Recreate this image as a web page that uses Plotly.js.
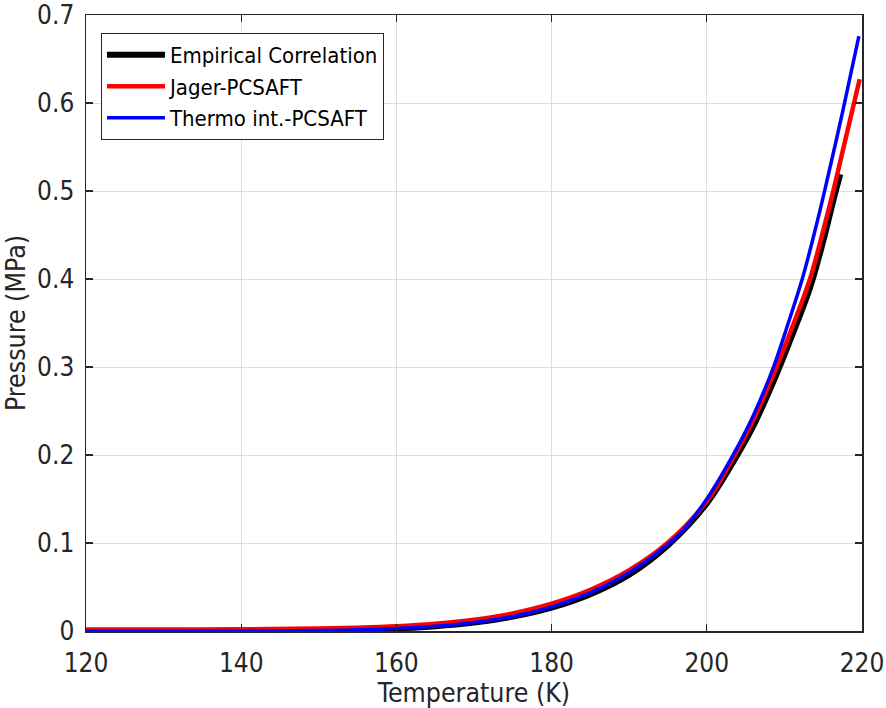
<!DOCTYPE html>
<html>
<head>
<meta charset="utf-8">
<script src="https://cdn.plot.ly/plotly-3.0.1.min.js"></script>
<style>html,body{margin:0;padding:0;background:#fff;}#chart{width:886px;height:708px;}</style>
</head>
<body>
<div id="chart"></div>
<script>
// Empirical correlation (black)
const empT = [120, 130, 140, 150, 155, 160, 165, 170, 175, 180, 185, 190, 195, 200, 203.6, 206, 209, 211, 213.3, 215, 216.3, 217.2];
const empP = [0.0000, 0.00003, 0.0002, 0.0008, 0.0016, 0.0030, 0.0055, 0.0097, 0.0163, 0.0265, 0.0418, 0.0640, 0.0975, 0.1450, 0.195, 0.233, 0.292, 0.336, 0.390, 0.443, 0.489, 0.519];

// Jager-PCSAFT (red)
const jagT = [120, 130, 140, 150, 155, 160, 165, 170, 175, 180, 185, 190, 195, 200, 203.6, 206, 209, 211, 213.3, 215, 216.3, 217.5, 218.6, 219.7];
const jagP = [0.0018, 0.0018, 0.0020, 0.0028, 0.0037, 0.0053, 0.0082, 0.0128, 0.0200, 0.0310, 0.0468, 0.0690, 0.1005, 0.1475, 0.200, 0.240, 0.300, 0.345, 0.400, 0.455, 0.500, 0.545, 0.586, 0.627];

// Thermo int.-PCSAFT (blue)
const thmT = [120, 130, 140, 150, 155, 160, 165, 170, 175, 180, 185, 190, 195, 197, 200, 203.2, 206, 208.6, 210.5, 212.3, 213.8, 215.1, 217.5, 219.6];
const thmP = [-0.0005, -0.0005, -0.0002, 0.0005, 0.0013, 0.0028, 0.0054, 0.0097, 0.0165, 0.0275, 0.0435, 0.0665, 0.0985, 0.115, 0.150, 0.197, 0.245, 0.300, 0.350, 0.400, 0.450, 0.497, 0.590, 0.676];

const seriesNames = ['Empirical Correlation', 'Jager-PCSAFT', 'Thermo int.-PCSAFT'];
const xTicks = [120, 140, 160, 180, 200, 220];
const yTicks = [0, 0.1, 0.2, 0.3, 0.4, 0.5, 0.6, 0.7];

const font = '"Liberation Sans Narrow", "DejaVu Sans Condensed", "Arial Narrow", sans-serif';
const traces = [
  {x: empT, y: empP, name: seriesNames[0], mode: 'lines', line: {color: '#000000', width: 6, shape: 'spline', smoothing: 1}},
  {x: jagT, y: jagP, name: seriesNames[1], mode: 'lines', line: {color: '#ff0000', width: 4.5, shape: 'spline', smoothing: 1}},
  {x: thmT, y: thmP, name: seriesNames[2], mode: 'lines', line: {color: '#0000ff', width: 3.5, shape: 'spline', smoothing: 1}}
];

const axisCommon = {
  showline: true, mirror: 'ticks', linecolor: '#262626', linewidth: 1.5,
  ticks: 'inside', ticklen: 7, tickwidth: 1.2, tickcolor: '#262626',
  showgrid: true, gridcolor: '#dcdcdc', gridwidth: 1,
  zeroline: false, tickfont: {family: font, size: 26, color: '#262626'}
};

const layout = {
  width: 886, height: 708,
  margin: {l: 86, r: 24, t: 15, b: 77},
  paper_bgcolor: '#ffffff', plot_bgcolor: '#ffffff',
  showlegend: true,
  legend: {
    x: 0.0193, y: 0.971, xanchor: 'left', yanchor: 'top',
    bgcolor: '#ffffff', bordercolor: '#262626', borderwidth: 1,
    font: {family: font, size: 22, color: '#000000'},
    tracegroupgap: 0, itemwidth: 58
  },
  xaxis: Object.assign({}, axisCommon, {
    range: [120, 220], tickvals: xTicks, ticktext: xTicks.map(String),
    ticklabelstandoff: 8,
    title: {text: 'Temperature (K)', font: {family: font, size: 26.5, color: '#262626'}, standoff: 4}
  }),
  yaxis: Object.assign({}, axisCommon, {
    range: [0, 0.7], tickvals: yTicks, ticktext: yTicks.map(v => String(v)),
    ticklabelstandoff: 5,
    title: {text: 'Pressure (MPa)', font: {family: font, size: 26.5, color: '#262626'}, standoff: 7}
  })
};

Plotly.newPlot('chart', traces, layout, {displayModeBar: false, staticPlot: true});
</script>
</body>
</html>
